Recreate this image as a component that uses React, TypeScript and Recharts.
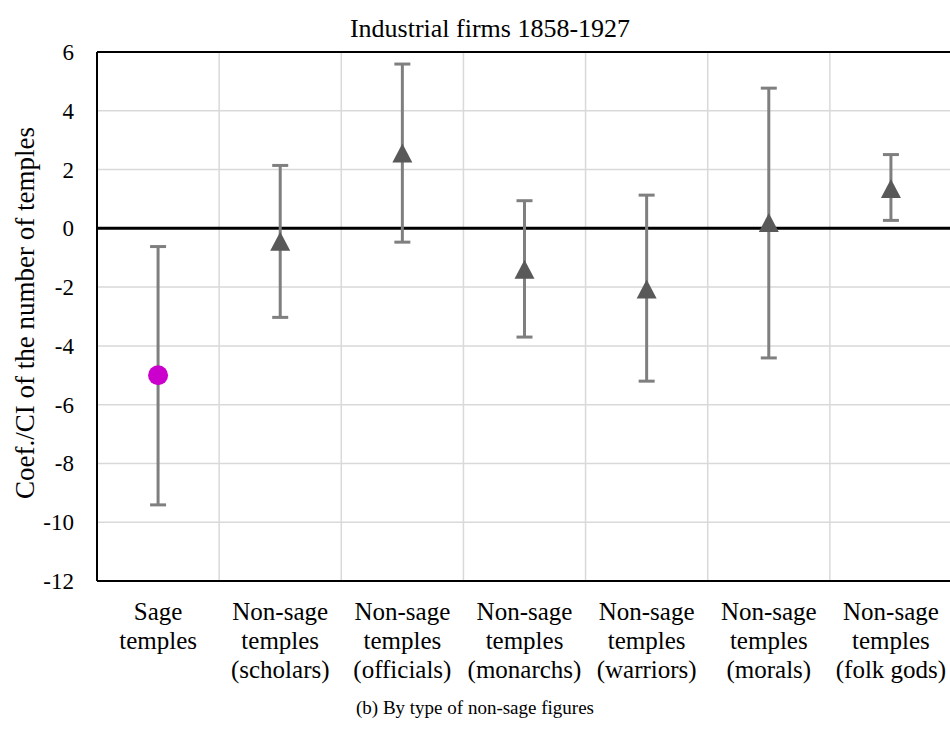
import React from "react";
import {
  CartesianGrid,
  ComposedChart,
  ErrorBar,
  Line,
  ReferenceLine,
  XAxis,
  YAxis,
} from "recharts";

const FONT = "'Liberation Serif', 'Times New Roman', serif";

const categories = [
  "Sage temples",
  "Non-sage temples (scholars)",
  "Non-sage temples (officials)",
  "Non-sage temples (monarchs)",
  "Non-sage temples (warriors)",
  "Non-sage temples (morals)",
  "Non-sage temples (folk gods)",
];

const tickLines = [
  ["Sage", "temples"],
  ["Non-sage", "temples", "(scholars)"],
  ["Non-sage", "temples", "(officials)"],
  ["Non-sage", "temples", "(monarchs)"],
  ["Non-sage", "temples", "(warriors)"],
  ["Non-sage", "temples", "(morals)"],
  ["Non-sage", "temples", "(folk gods)"],
];

// point estimates and 95% CI bounds
const coef = [-5.0, -0.46, 2.55, -1.41, -2.08, 0.18, 1.34];
const ciLow = [-9.41, -3.03, -0.47, -3.7, -5.2, -4.41, 0.27];
const ciHigh = [-0.62, 2.14, 5.59, 0.94, 1.13, 4.77, 2.51];

const yTicks = [-12, -10, -8, -6, -4, -2, 0, 2, 4, 6];

const data = categories.map((name, i) => ({
  name,
  coef: coef[i],
  err: [coef[i] - ciLow[i], ciHigh[i] - coef[i]],
}));

const XTick = (props: any) => {
  const { x, y, index } = props;
  const lines = tickLines[index] || [];
  return (
    <g transform={`translate(${x},${y})`}>
      {lines.map((line, i) => (
        <text
          key={i}
          x={0}
          y={37 + i * 29}
          textAnchor="middle"
          fill="#000"
          style={{ fontFamily: FONT, fontSize: 25 }}
        >
          {line}
        </text>
      ))}
    </g>
  );
};

const YTick = (props: any) => {
  const { x, y, payload } = props;
  return (
    <text
      x={x}
      y={y}
      dy="0.35em"
      textAnchor="end"
      fill="#000"
      style={{ fontFamily: FONT, fontSize: 23 }}
    >
      {payload.value}
    </text>
  );
};

const Marker = (props: any) => {
  const { cx, cy, index } = props;
  if (cx == null || cy == null) return null;
  if (index === 0) {
    return <circle cx={cx} cy={cy} r={10} fill="#cc00cc" />;
  }
  const pts = `${cx},${cy - 10} ${cx - 10},${cy + 9} ${cx + 10},${cy + 9}`;
  return <polygon points={pts} fill="#595959" />;
};

const App: React.FC = () => {
  return (
    <div
      style={{
        position: "fixed",
        left: 0,
        top: 0,
        width: 950,
        height: 745,
        overflow: "hidden",
        background: "#fff",
        fontFamily: FONT,
      }}
    >
      <ComposedChart
        width={952}
        height={745}
        data={data}
        margin={{ top: 52, right: 0, left: 0, bottom: 74 }}
        style={{ fontFamily: FONT }}
      >
        <CartesianGrid
          stroke="#d9d9d9"
          strokeWidth={1.5}
          verticalCoordinatesGenerator={({ offset }: any) =>
            [1, 2, 3, 4, 5, 6].map(
              (i) => offset.left + (i * offset.width) / categories.length
            )
          }
        />
        <XAxis
          dataKey="name"
          scale="band"
          interval={0}
          tick={<XTick />}
          tickLine={false}
          tickSize={0}
          height={90}
          axisLine={{ stroke: "#000", strokeWidth: 2 }}
        />
        <YAxis
          type="number"
          domain={[-12, 6]}
          ticks={yTicks}
          width={97}
          tickLine={false}
          tickSize={0}
          tickMargin={23}
          axisLine={{ stroke: "#000", strokeWidth: 2 }}
          tick={<YTick />}
        />
        <ReferenceLine y={6} stroke="#000" strokeWidth={2} />
        <ReferenceLine y={0} stroke="#000" strokeWidth={3} />
        <Line
          dataKey="coef"
          stroke="none"
          isAnimationActive={false}
          activeDot={false}
          dot={(p: any) => <Marker key={`m-${p.index}`} {...p} />}
        >
          <ErrorBar
            dataKey="err"
            direction="y"
            width={8}
            stroke="#7f7f7f"
            strokeWidth={3}
          />
        </Line>
      </ComposedChart>
      <svg
        width={950}
        height={745}
        style={{ position: "absolute", left: 0, top: 0, pointerEvents: "none" }}
      >
        <text
          x={490}
          y={37}
          textAnchor="middle"
          fill="#000"
          style={{ fontFamily: FONT, fontSize: 26 }}
        >
          Industrial firms 1858-1927
        </text>
        <text
          transform="translate(34,313) rotate(-90)"
          textAnchor="middle"
          fill="#000"
          style={{ fontFamily: FONT, fontSize: 27 }}
        >
          Coef./CI of the number of temples
        </text>
        <text
          x={475}
          y={714}
          textAnchor="middle"
          fill="#000"
          style={{ fontFamily: FONT, fontSize: 19 }}
        >
          (b) By type of non-sage figures
        </text>
      </svg>
    </div>
  );
};

export default App;
